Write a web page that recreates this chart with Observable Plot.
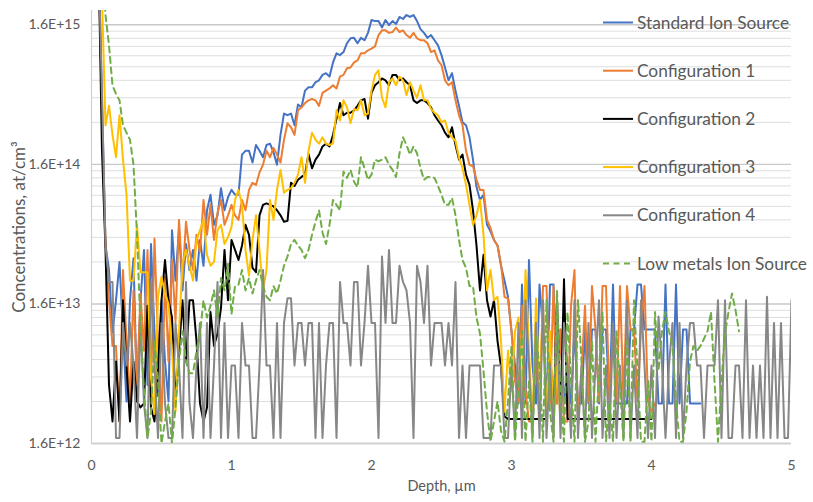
<!DOCTYPE html>
<html><head><meta charset="utf-8">
<script src="https://cdn.jsdelivr.net/npm/d3@7"></script>
<script src="https://cdn.jsdelivr.net/npm/@observablehq/plot@0.6"></script>
<style>
body{margin:0;background:#fff;}
#wrap{position:relative;width:813px;height:502px;}
#legend{position:absolute;left:0;top:0;pointer-events:none;}
</style></head><body><div id="wrap"></div>
<script>
// Concentrations are stored in units of 1E+12 at/cm3; depth grid step in µm
const UNIT = 1e12;
const depthStep = 0.025;

const seriesNames = ["Standard Ion Source","Configuration 1","Configuration 2","Configuration 3","Configuration 4","Low metals Ion Source"];
const seriesColors = ["#4472C4","#ED7D31","#000000","#FFC000","#878787","#70AD47"];
const seriesDash = [null,null,null,null,null,"6,4.5"];

const standardIonSource = [100000,30000,5000,460,42,28,10,17,32,10,
 3.2,17,34,3.5,17,39,4.2,43,10,3.5,
 17,6.2,3.2,54,23.5,56,20,43,28,39,
 23.5,46,30,75,97,59,69,108,75,93,
 105,97,97,188,200,200,165,220,200,180,
 220,225,195,159,260,370,360,370,305,430,
 410,540,570,570,620,640,700,720,680,860,
 1000,970,1020,1180,1280,1290,1180,1290,1240,1400,
 1730,1700,1700,1530,1730,1590,1700,1620,1820,1760,
 1880,1820,1880,1700,1490,1400,1290,1350,1240,1140,
 970,790,640,720,540,420,320,305,250,173,
 110,89,97,59,53,46,42,30,23.5,18,
 10.2,5.8,3.1,22,3.1,33,5.8,3.1,22,10.5,
 3.1,22,22,3.1,10.5,3.1,5.8,3.1,10.5,3.1,
 3.1,10.5,3.1,10.5,10.5,3.1,10.5,10.5,3.1,22,
 3.1,3.1,3.1,3.1,10.5,10.5,22,22,10.5,10.5,
 10.5,10.5,3.1,3.1,22,3.1,3.1,22,3.1,10.5,
 10.5,3.1,3.1,3.1,3.1];

const configuration1 = [100000,30000,5000,330,46,17,8,8,2.3,28,
 8.7,3.2,20,4.2,19,7.4,39,3.8,47,8.7,
 2.3,25,6.2,33,12,64,23.5,62,39,28,
 50,38,89,50,82,46,72,89,59,69,
 82,69,64,89,75,105,118,114,140,159,
 200,180,210,188,165,240,315,295,260,390,
 410,440,460,470,460,420,520,540,560,590,
 560,680,700,780,790,860,890,1000,1000,1050,
 1080,1120,1350,1460,1460,1400,1420,1530,1420,1460,
 1350,1290,1400,1280,1240,1240,1180,1020,1050,890,
 820,640,590,620,460,360,305,200,159,155,
 124,105,105,64,56,46,42,31,18,17.5,
 10.2,4.5,3.2,15.5,3.8,2.3,2.3,7.4,2.3,21.5,
 21.5,3.1,21.5,3.1,10.5,2.3,2.3,15.5,28,2.3,
 5.3,15.5,3.2,21.5,10.5,3.2,21.5,21.5,3.2,10.5,
 3.2,21.5,3.2,21.5,10.5,10.5,3.2,10.5,21.5,3.2,
 2.7,3.1];

const configuration2 = [100000,30000,5000,200,39,4.2,2.3,6.2,2.3,17,
 5.7,2.3,6.2,3.2,2.9,3.1,15.5,2.9,2.3,5.6,
 17,33,17,12.8,3.2,7.4,17,6.2,17,17,
 8.7,3.1,2.3,2.9,14,8,9.8,15,39,17,
 46,39,33,42,59,50,29,27,69,82,
 84,82,80,75,69,62,63,118,112,124,
 130,135,190,150,173,188,215,225,215,260,
 340,440,360,375,375,390,420,460,470,340,
 520,590,620,660,640,590,700,700,640,660,
 620,590,460,440,460,460,440,410,360,330,
 305,270,250,295,220,173,188,135,114,75,
 42,20,36,17,13,17,8.7,5.7,2.5,2.4,
 2.4,2.4,2.4,2.4,2.4,2.4,2.4,2.4,2.4,2.4,
 2.4,8,2.4,17,2.4,24,2.4,2.4,2.4,2.4,
 2.4,2.4,2.4,2.4,2.4,2.4,2.4,2.4,2.4,2.4,
 2.4,2.4,2.4,2.4,2.4,2.4,2.4,2.4,2.4,2.4,
 2.4];

const configuration3 = [100000,30000,5000,2500,305,420,260,180,360,173,
 97,23.5,23.5,59,27,27,27,4.7,2.6,18,
 25,19,16,7.4,2.7,10.2,31,39,30,23.5,
 46,54,64,36,30,32,54,59,43,48,
 57,89,105,82,39,25.5,46,69,39,20,
 28,89,64,105,146,100,105,108,118,135,
 180,118,200,270,240,225,250,225,220,225,
 390,330,460,410,315,400,390,460,360,370,
 540,700,755,480,410,620,660,590,680,640,
 500,620,540,480,590,460,460,400,375,360,
 320,330,270,250,235,178,150,114,82,59,
 69,89,50,20,28,17,18,8.7,2.7,7.4,
 3.8,10.2,12.8,3.2,28,7.4,2.3,17.5,3.2,17,
 2.4,10.2,2.3,5.7,2.4];

const configuration4 = [100000,30000,5000,500,42,23,23,1.75,1.75,11.7,
 5.8,11.7,5.8,1.75,11.7,3.1,1.75,23,5.8,1.75,
 11.7,3.1,1.75,1.75,11.7,5.8,1.75,23,3.1,1.75,
 5.8,11.7,1.75,11.7,1.75,5.8,23,1.75,11.7,1.75,
 5.8,5.8,1.75,11.7,5.8,5.8,1.75,1.75,5.8,28,
 5.8,5.8,1.75,11.7,1.75,11.7,17.6,17.6,5.8,11.7,
 11.7,5.8,11.7,11.7,1.75,11.7,1.75,5.8,11.7,11.7,
 1.75,23,11.7,11.7,5.8,23,23,5.8,11.7,30,
 11.7,11.7,1.75,35,11.7,39,11.7,11.7,30,23,
 20,11.7,1.75,30,23,11.7,30,5.8,11.7,11.7,
 11.7,5.8,11.7,5.8,23,1.75,5.8,1.75,5.8,5.8,
 5.8,5.8,1.75,1.75,1.75,5.8,5.8,5.8,1.75,1.75,
 5.8,1.75,11.7,1.75,17,5.8,1.75,11.7,1.75,17,
 1.75,5.8,1.75,17,1.75,11.7,5.8,1.75,17,1.75,
 5.8,1.75,11.7,1.75,5.8,17,1.75,5.8,1.75,11.7,
 1.75,5.8,1.75,17,1.75,5.8,1.75,17,5.8,1.75,
 5.8,1.75,13,5.8,1.75,5.8,11.7,1.75,11.7,1.75,
 5.8,11.7,11.7,5.8,5.8,1.75,5.8,5.8,5.8,17,
 1.75,17,1.75,1.75,5.8,5.8,1.75,17,1.75,5.8,
 1.75,5.8,1.75,18,1.75,11.7,1.75,11.7,1.75,1.75,
 17];

const lowMetalsIonSource = [100000,50000,20000,4000,1880,1140,590,510,460,305,
 270,240,159,50,11,3.8,1.75,2.7,8.7,4.5,
 1.6,2.3,3.1,1.6,2.9,6.2,10.2,6.2,5.1,5.1,
 7.4,9.8,17,12.8,15.5,20,12.8,24.5,20,31,
 13.5,21.5,22,28,20,24.5,19,23.5,28,21.5,
 18,17,21.5,19,23.5,30,35,43,46,42,
 39,34,39,50,62,75,52,43,59,89,
 82,75,142,128,146,120,110,180,150,124,
 135,173,168,173,180,159,146,130,192,250,
 220,188,215,192,150,124,130,130,128,112,
 97,82,82,92,69,46,33,29,21.5,21.5,
 12.8,9.8,5.3,2.7,1.65,2.3,3.2,1.97,1.65,3.2,
 8,1.65,3.8,10.2,1.65,4.5,1.65,9.4,5.7,1.65,
 17,2.7,1.65,20,3.5,1.65,14,4.5,1.65,17,
 6.2,1.65,2.3,8.7,1.65,5.3,14,1.65,3.2,1.65,
 10.2,4.1,1.65,8.7,1.65,17,5.3,1.65,1.65,4.5,
 1.65,14,5.3,10.2,14,10.2,8,3.2,1.65,1.65,
 2.7,6.2,8,7.4,8,9,10.2,14,4.5,1.65,
 4.5,9.8,14,19,14.5,10.2];

const xTicks = [0,1,2,3,4,5];
const yMajorTicks = [1.6,16,160,1600];   // 1.6E+12 ... 1.6E+15
const yTop = 2025;                        // ~2.0E+15 upper bound of the axis

const seriesValues = [standardIonSource, configuration1, configuration2, configuration3, configuration4, lowMetalsIonSource];
const rows = seriesValues.map((vals, s) => vals.map((v, i) => ({series: seriesNames[s], depth: +(i * depthStep).toFixed(3), conc: v})));
const yMinorTicks = yMajorTicks.flatMap(b => [2,3,4,5,6,7,8,9].map(k => b * k)).filter(v => v <= yTop);

const fmtE = v => {
  const x = v * UNIT;
  const e = Math.floor(Math.log10(x) + 1e-9);
  const m = x / Math.pow(10, e);
  return m.toFixed(1) + "E+" + e;
};

const txt = "#595959";
const chart = Plot.plot({
  width: 813, height: 502,
  marginLeft: 91, marginRight: 22, marginTop: 10, marginBottom: 59,
  style: {fontFamily: "Lato, sans-serif", background: "white", color: txt},
  x: {domain: [0, 5]},
  y: {type: "log", domain: [1.6, yTop]},
  marks: [
    Plot.ruleY(yMinorTicks, {stroke: "#dedede", strokeWidth: 1}),
    Plot.ruleY(yMajorTicks, {stroke: "#c9c9c9", strokeWidth: 1.4}),
    Plot.ruleX([0], {stroke: "#d0d0d0", strokeWidth: 1.2}),
    Plot.ruleY([1.6], {stroke: "#d0d0d0", strokeWidth: 1.4}),
    ...rows.map((data, s) => Plot.line(data, {
      x: "depth", y: "conc",
      stroke: seriesColors[s], strokeWidth: 2,
      strokeDasharray: seriesDash[s] || undefined,
      strokeLinejoin: "round", clip: true
    })),
    Plot.axisX(xTicks, {tickSize: 0, tickPadding: 17, tickFormat: d => String(d), label: null, fontSize: 14, fill: txt}),
    Plot.axisY(yMajorTicks, {tickSize: 0, tickPadding: 11, tickFormat: fmtE, label: null, fontSize: 14, fill: txt}),
    Plot.text(["Depth, µm"], {frameAnchor: "bottom", dy: 47, fontSize: 14.5, fill: txt}),
    Plot.text(["Concentrations, at/cm³"], {frameAnchor: "left", textAnchor: "middle", dx: -72, rotate: -90, fontSize: 17, fill: txt})
  ]
});
const wrap = document.getElementById("wrap");
wrap.appendChild(chart);

// Legend overlaid at the upper right, as in the original
const legendX = 603, legendTop = 22.5, legendStep = 48.2;
const leg = d3.select(wrap).append("svg").attr("id", "legend").attr("width", 813).attr("height", 502);
seriesNames.forEach((name, s) => {
  const cy = legendTop + s * legendStep;
  leg.append("line").attr("x1", legendX).attr("x2", legendX + 30).attr("y1", cy).attr("y2", cy)
    .attr("stroke", seriesColors[s]).attr("stroke-width", 2)
    .attr("stroke-dasharray", seriesDash[s]);
  leg.append("text").attr("x", legendX + 34).attr("y", cy).attr("dy", "0.35em")
    .attr("font-family", "Lato, sans-serif").attr("font-size", 17.3).attr("fill", txt).text(name);
});
</script></body></html>
